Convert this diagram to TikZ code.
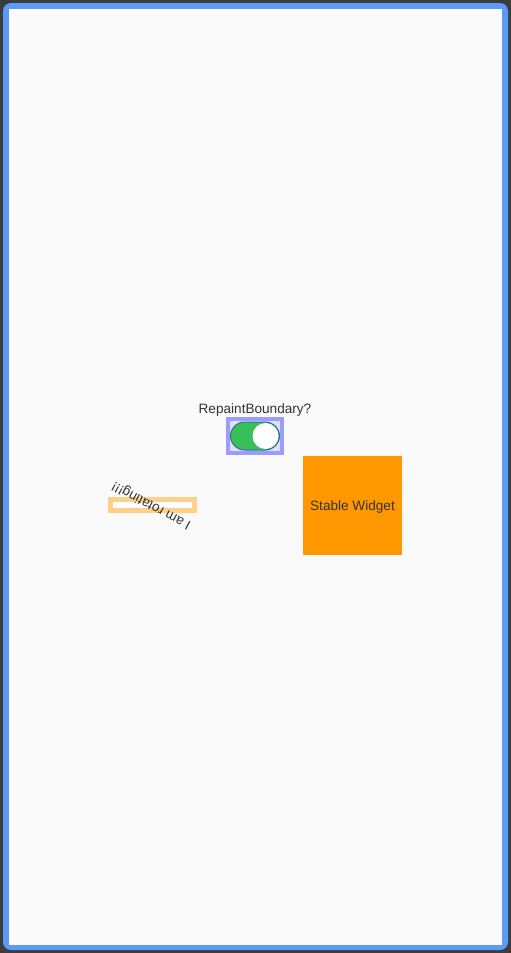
\documentclass[tikz,border=0pt]{standalone}
\usepackage{fontspec}
\setmainfont{Liberation Sans}
\definecolor{framebg}{HTML}{3C3C3C}
\definecolor{frameblue}{HTML}{5A9CF5}
\definecolor{screenbg}{HTML}{FAFAFA}
\definecolor{boundary}{HTML}{9C9CFF}
\definecolor{trackgreen}{HTML}{38C15A}
\definecolor{trackline}{HTML}{2E6E8E}
\definecolor{stableorange}{HTML}{FF9800}
\definecolor{fadedorange}{HTML}{FFD08C}
\definecolor{textgrey}{HTML}{333333}
\tikzset{
  label text/.style={text=textgrey, font=\fontsize{13.6}{16}\selectfont, inner sep=0pt},
}
\begin{document}
\begin{tikzpicture}[x=1pt, y=-1pt]
\useasboundingbox (0,0) rectangle (511,953);
\fill [framebg] (0,0) rectangle (511,953);
\fill [frameblue, rounded corners=8pt] (3,3) rectangle (508,950);
\fill [screenbg] (9,9) rectangle (502,945);
% repaint boundary switch
\node [label text] (question) at (255,409.5) {RepaintBoundary?};
\fill [boundary] (226,417) rectangle (284,455);
\fill [boundary!30] (230,421) rectangle (280,451);
\draw [fill=trackgreen, draw=trackline, line width=1pt, rounded corners=14pt] (230.5,422) rectangle (279.5,450);
\node [circle, fill=white, minimum size=26pt, inner sep=0pt] (thumb) at (265.5,436) {};
% rotating part
\fill [fadedorange] (108,497) rectangle (197,513);
\fill [white] (113,502) rectangle (192,508);
\node [label text, rotate=152] (rotating) at (151.5,505.5) {I am rotating!!!};
% stable widget
\node [fill=stableorange, minimum size=99pt, inner sep=0pt] (stable) at (352.5,505.5) {};
\node [label text] (stablelabel) at ([yshift=-1pt]stable.center) {Stable Widget};
\end{tikzpicture}
\end{document}
